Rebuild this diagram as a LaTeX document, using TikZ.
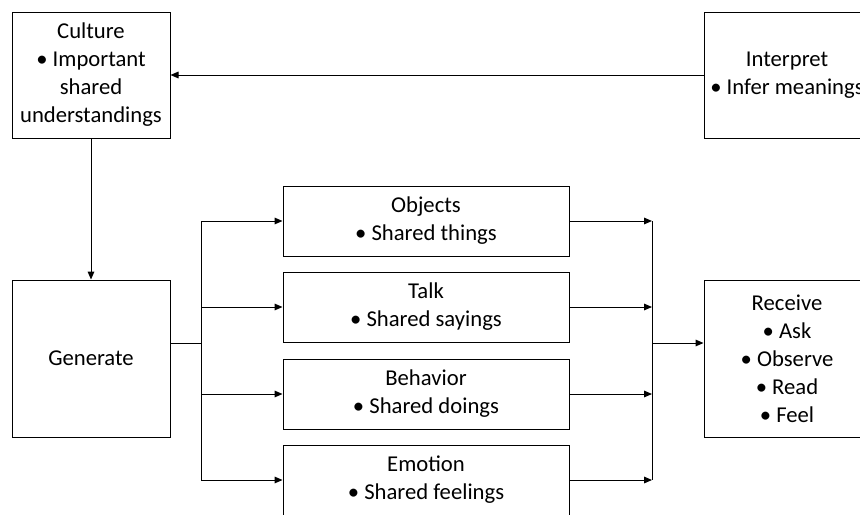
\documentclass[tikz,border=0pt]{standalone}
\usepackage{fontspec}
\setmainfont{Carlito}
\usetikzlibrary{arrows.meta}
\begin{document}
\begin{tikzpicture}[x=.75pt,y=-.75pt,line width=.75pt,
    box/.style={draw,align=center,inner sep=0pt,font=\fontsize{17}{21}\selectfont},
    >={Triangle[length=6pt,width=5pt]}]
      \pgfmathsetmacro{\mx}{426}
      \pgfmathsetmacro{\rx}{787}

      \useasboundingbox (0,0) rectangle (860,514);
      \clip (0,0) rectangle (860,514);

      \node[box,minimum width=118.5pt,minimum height=94.5pt] (Culture) at (91,75)
        {Culture\\• Important\\shared\\understandings};
      \node[box,minimum width=124.5pt,minimum height=94.5pt] (Interpret) at (\rx,75)
        {Interpret\\• Infer meanings};

      \node[box,minimum width=118.5pt,minimum height=117.75pt] (Generate) at (91,358.5) {Generate};
      \node[box,minimum width=124.5pt,minimum height=117.75pt] (Receive) at (\rx,358.5)
        {Receive\\• Ask\\• Observe\\• Read\\• Feel};

      \node[box,minimum width=214.5pt,minimum height=52.5pt] (Objects) at (\mx,221) {Objects\\• Shared things};
      \node[box,minimum width=214.5pt,minimum height=52.5pt] (Talk) at (\mx,307) {Talk\\• Shared sayings};
      \node[box,minimum width=214.5pt,minimum height=52.5pt] (Behavior) at (\mx,394) {Behavior\\• Shared doings};
      \node[box,minimum width=214.5pt,minimum height=52.5pt] (Emotion) at (\mx,480) {Emotion\\• Shared feelings};

      \coordinate (split) at (201,343);
      \coordinate (join) at (652,343);

      \draw[->] (Interpret) -- (Culture);
      \draw[->] (Culture) -- (Generate);

      \draw (Generate.east |- split) -- (split);
      \draw (split |- Objects.west) -- (split |- Emotion.west);
      \draw[->] (split |- Objects.west) -- (Objects);
      \draw[->] (split |- Talk.west) -- (Talk);
      \draw[->] (split |- Behavior.west) -- (Behavior);
      \draw[->] (split |- Emotion.west) -- (Emotion);

      \draw[->] (Objects) -- (join |- Objects.east);
      \draw[->] (Talk) -- (join |- Talk.east);
      \draw[->] (Behavior) -- (join |- Behavior.east);
      \draw[->] (Emotion) -- (join |- Emotion.east);
      \draw (join |- Objects.east) -- (join |- Emotion.east);
      \draw[->] (join) -- (Receive.west |- join);
    \end{tikzpicture}
\end{document}
